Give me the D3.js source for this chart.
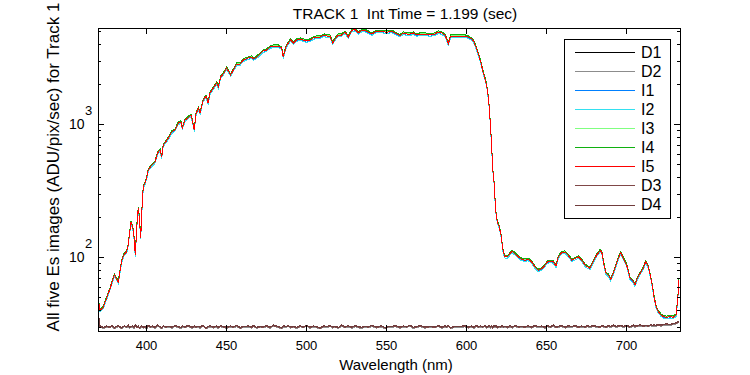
<!DOCTYPE html>
<html>
<head>
<meta charset="utf-8">
<script src="https://cdn.jsdelivr.net/npm/d3@7"></script>
<style>
body{margin:0;background:#fff}
text{font-family:"Liberation Sans",Arial,sans-serif;fill:#000}
</style>
</head>
<body>
<div id="chart"></div>
<script>
// wavelength samples (nm)
var specWl = [
  370, 371.2, 373.1, 375.4, 377.5, 378.6, 380.2, 381.3, 382.7, 383.9,
  384.8, 386.4, 387.9, 388.9, 389.6, 390.6, 391.7, 392.5, 393.3, 394.4,
  395.2, 395.8, 396.7, 397.3, 398.3, 399.4, 400.4, 401.4, 402.7, 403.9,
  405.6, 407.3, 408.8, 409.8, 410.8, 412.3, 414.4, 416.1, 418.1, 420.2,
  421.9, 422.7, 424.4, 426.1, 428.1, 428.9, 430.2, 431.1, 432.7, 433.8,
  435.6, 437.5, 438.8, 440, 442.1, 444.2, 445.2, 446.7, 448.3, 450.4,
  452.9, 454.6, 456.7, 458.8, 460.8, 463.9, 466.1, 467.1, 469.2, 471.3,
  473.3, 475.4, 477.5, 479.6, 482.7, 484.8, 485.8, 487.5, 488.9, 490.4,
  492.1, 494.2, 496.3, 498.3, 500.4, 502.5, 504.6, 506.7, 508.8, 511.3,
  512.9, 515, 516.7, 518.1, 520.2, 522.3, 524.4, 526.4, 528.6, 530.6,
  532.7, 534.8, 536.9, 538.9, 541.1, 544.2, 547.3, 549.4, 551.4, 553.6,
  555.6, 558.8, 560.8, 562.9, 565, 567.1, 569.2, 571.3, 574.4, 577.5,
  580.6, 582.7, 584.8, 586.9, 587.9, 588.9, 590.4, 593.1, 596.3, 599.4,
  601.4, 603.6, 605, 606.3, 607.7, 609.2, 610.4, 611.9, 612.9, 613.9,
  614.6, 615.4, 616.1, 616.7, 617.5, 618.1, 618.8, 619.6, 620.8, 621.9,
  622.7, 623.3, 624.4, 625.8, 627.5, 628.9, 630.6, 632.7, 634.8, 636.9,
  638.9, 641.1, 643.1, 645.2, 647.3, 649.4, 650.8, 652.9, 654.6, 656.3,
  657.7, 659.8, 661.9, 663.9, 666.1, 668.1, 670.2, 672.3, 674.4, 675.6,
  677.5, 679.6, 681.7, 683.8, 684.8, 686.3, 687.5, 688.9, 690.4, 692.1,
  693.8, 695.2, 696.7, 698.3, 700.4, 702.5, 704.6, 705.6, 707.1, 708.8,
  710.8, 712.3, 713.9, 715.4, 716.7, 717.5, 718.8, 720.2, 721.9, 723.3,
  725.4, 727.5, 729.6, 731.3, 732.3, 733.1
]
// Es image signal (ADU/pix/sec)
var specVal = [
  50, 40, 41.6, 49.4, 57.8, 64.1, 73.6, 69.9, 65.2, 80.2,
  93.8, 105.9, 109.6, 123.7, 147.1, 184.3, 169, 142.1, 104, 181.1,
  234.8, 200.9, 139.7, 211.6, 337.8, 362, 394.8, 453.4, 477.5, 494.3,
  520.7, 608.4, 640.8, 567.7, 698.9, 736, 802.6, 875.1, 906, 1023,
  1041, 937.9, 1077, 1115, 1175, 1077, 906, 1175, 1326, 1216,
  1497, 1632, 1446, 1719, 1875, 2044, 1908, 2269, 2389, 2651,
  2349, 2561, 2840, 2840, 3044, 3151, 3206, 3097, 3206, 3378,
  3557, 3619, 3813, 3879, 3879, 3748, 3206, 3813, 4087, 4304,
  4087, 4304, 4379, 4304, 4230, 4304, 4456, 4533, 4533, 4693,
  4612, 4612, 4087, 4379, 4693, 4693, 4943, 4533, 5073, 5162,
  4859, 5073, 5073, 4943, 4775, 5012, 5012, 4943, 4943, 5012,
  4859, 4653, 4859, 4775, 4775, 4859, 4693, 4775, 4775, 4693,
  4775, 4943, 4859, 4693, 4379, 4016, 4612, 4612, 4612, 4612,
  4533, 4379, 4158, 3780, 3378, 2940, 2547, 2203, 1965, 1604,
  1310, 926.6, 655.3, 463.7, 368.3, 275.8, 212.7, 184.3, 169, 146.3,
  123.1, 109.6, 100.5, 100.5, 106.4, 110.9, 106.4, 100.5, 96.6, 95,
  96.6, 92.2, 84.6, 79.9, 82.1, 87.1, 92.2, 93.3, 92.2, 86,
  100.5, 108.3, 109.6, 103.5, 95, 97.6, 100.5, 95, 87.5, 85,
  82.7, 92.7, 104, 112.1, 110.2, 87.5, 75.8, 73.6, 68.3, 75.8,
  87.5, 98.3, 108.3, 98.3, 87.5, 69.5, 65.6, 61.9, 69.5, 75.8,
  82.7, 92.7, 85, 71.5, 58.5, 50.6, 42.5, 39, 36.8, 35.8,
  35.4, 35.8, 35.4, 36.8, 47.8, 67.5
]
// dark frames, same wavelengths
var darkVal = [
  40, 30.2, 29.4, 30.1, 29.7, 30.5, 29.3, 29.9, 30.4, 29.6,
  29.2, 30.3, 29.8, 30.6, 29.5, 29.9, 30.2, 29.4, 30.7, 29.6,
  30.1, 29.3, 29.8, 30.4, 29.5, 30.0, 29.2, 30.5, 29.7, 30.2,
  29.4, 30.6, 29.8, 29.3, 30.3, 29.7, 30.1, 29.5, 30.4, 29.9,
  29.3, 30.2, 29.6, 30.5, 29.8, 29.4, 30.3, 29.7, 30.0, 29.5,
  30.6, 29.2, 29.9, 30.3, 29.6, 30.1, 29.4, 30.4, 29.8, 29.5,
  30.2, 29.7, 30.5, 29.3, 29.9, 30.1, 29.6, 30.4, 29.4, 30.0,
  29.7, 30.3, 29.5, 30.6, 29.8, 29.3, 30.2, 29.9, 30.4, 29.6,
  30.0, 29.4, 30.3, 29.7, 30.5, 29.5, 30.1, 29.8, 29.3, 30.2,
  29.9, 30.4, 29.6, 30.0, 29.4, 30.6, 29.7, 30.2, 29.5, 30.3,
  29.8, 29.4, 30.1, 29.7, 30.5, 29.6, 30.2, 29.3, 30.0, 29.9,
  30.4, 29.5, 30.1, 29.8, 30.6, 29.4, 29.9, 30.3, 29.6, 30.0,
  29.7, 30.4, 29.5, 30.2, 29.8, 30.5, 29.3, 30.0, 29.9, 30.3,
  29.6, 30.1, 29.4, 30.5, 29.8, 30.2, 29.7, 30.4, 29.5, 30.0,
  30.3, 29.6, 30.1, 29.4, 30.6, 29.9, 30.2, 29.5, 30.0, 29.8,
  30.4, 29.7, 30.1, 29.6, 30.3, 29.5, 30.5, 29.8, 30.0, 29.7,
  30.2, 29.6, 30.4, 29.9, 30.1, 29.5, 30.3, 29.8, 30.6, 29.7,
  30.0, 30.4, 29.6, 30.2, 29.9, 30.5, 29.7, 30.1, 29.8, 30.3,
  29.9, 30.4, 30.0, 29.7, 30.5, 30.1, 29.8, 30.3, 30.0, 30.6,
  29.9, 30.2, 30.5, 30.0, 30.4, 29.8, 30.6, 30.1, 30.3, 30.7,
  30.2, 30.5, 30.3, 30.8, 30.4, 30.7, 30.5, 30.9, 30.6, 31.0,
  31.2, 31.0, 31.5, 31.8, 32.3, 32.8
]

var seriesNames = ['D1','D2','I1','I2','I3','I4','I5','D3','D4']
var seriesSource = ['dark','dark','spec','spec','spec','spec','spec','dark','dark']
var seriesGain = [1.0, 0.99, 0.98, 0.975, 1.005, 1.02, 1.0, 1.0, 1.012]
var seriesColors = ['#000000','#8c8c8c','#0080ff','#33e0f0','#80ff80','#10b010','#ff0000','#804848','#703c3c']

var xTicks = [400,450,500,550,600,650,700]
var yMajor = [100,1000]
var yMinor = [30,40,50,60,70,80,90,200,300,400,500,600,700,800,900,2000,3000,4000,5000]

var W = 750, H = 375
var L = 98, R = 680, T = 28, B = 331

var svg = d3.select('#chart').append('svg')
    .attr('width',W)
    .attr('height',H)

var x = d3.scaleLinear().domain([370,733.75]).range([L,R])
var y = d3.scaleLog().domain([27.9,5298]).range([B,T])

svg.append('defs').append('clipPath').attr('id','clip')
  .append('rect').attr('x',L).attr('y',T).attr('width',R-L).attr('height',B-T)

var line = d3.line().x(d=>x(d[0])).y(d=>y(d[1]))

var plot = svg.append('g').attr('clip-path','url(#clip)')
seriesNames.forEach((name,i)=>{
  var src = seriesSource[i]==='dark' ? darkVal : specVal
  var pts = specWl.map((w,k)=>[w, src[k]*seriesGain[i]])
  plot.append('path')
    .attr('d',line(pts))
    .attr('fill','none')
    .attr('stroke',seriesColors[i])
    .attr('stroke-width',1)
    .attr('shape-rendering','crispEdges')
})

// axes, ticks pointing inward
function clean(g){ g.select('.domain').remove(); g.selectAll('line').attr('stroke','#000').attr('shape-rendering','crispEdges') }

svg.append('g').attr('transform',`translate(0,${B})`)
  .call(d3.axisBottom(x).tickValues(xTicks).tickSizeInner(-6).tickSizeOuter(0).tickPadding(10).tickFormat(d3.format('d')))
  .call(clean)
  .selectAll('text').style('font-size','13px').attr('font-family',null)

svg.append('g').attr('transform',`translate(0,${T})`)
  .call(d3.axisTop(x).tickValues(xTicks).tickSizeInner(-6).tickSizeOuter(0).tickFormat(''))
  .call(clean)

svg.append('g').attr('transform',`translate(${L},0)`)
  .call(d3.axisLeft(y).tickValues(yMajor).tickSizeInner(-6).tickSizeOuter(0).tickFormat(''))
  .call(clean)
svg.append('g').attr('transform',`translate(${L},0)`)
  .call(d3.axisLeft(y).tickValues(yMinor).tickSizeInner(-3).tickSizeOuter(0).tickFormat(''))
  .call(clean)
svg.append('g').attr('transform',`translate(${R},0)`)
  .call(d3.axisRight(y).tickValues(yMajor).tickSizeInner(-6).tickSizeOuter(0).tickFormat(''))
  .call(clean)
svg.append('g').attr('transform',`translate(${R},0)`)
  .call(d3.axisRight(y).tickValues(yMinor).tickSizeInner(-3).tickSizeOuter(0).tickFormat(''))
  .call(clean)

// 10^n labels
yMajor.forEach(v=>{
  var yy = y(v)
  svg.append('text').attr('x',84.5).attr('y',yy+5).attr('text-anchor','end')
    .style('font-size','14px').text('10')
  svg.append('text').attr('x',85).attr('y',yy-9).attr('text-anchor','start')
    .style('font-size','13px').text(Math.round(Math.log10(v)))
})

svg.append('rect').attr('x',L).attr('y',T).attr('width',R-L).attr('height',B-T)
  .attr('fill','none').attr('stroke','#000').attr('shape-rendering','crispEdges')

svg.append('text').attr('x',405).attr('y',19).attr('text-anchor','middle')
  .style('font-size','15.5px').style('white-space','pre').text('TRACK 1  Int Time = 1.199 (sec)')

svg.append('text').attr('x',396).attr('y',370).attr('text-anchor','middle')
  .style('font-size','15px').text('Wavelength (nm)')

svg.append('text').attr('transform','translate(59,167) rotate(-90)').attr('text-anchor','middle')
  .style('font-size','17px').text('All five Es images (ADU/pix/sec) for Track 1')

// legend
var lg = svg.append('g')
lg.append('rect').attr('x',564).attr('y',39).attr('width',106).attr('height',179)
  .attr('fill','#fff').attr('stroke','#000').attr('shape-rendering','crispEdges')
seriesNames.forEach((name,i)=>{
  var cy = 51.7 + i*19.1
  lg.append('line').attr('x1',575).attr('x2',635).attr('y1',Math.round(cy)+0.5).attr('y2',Math.round(cy)+0.5)
    .attr('stroke',seriesColors[i]).attr('stroke-width',1).attr('shape-rendering','crispEdges')
  lg.append('text').attr('x',641).attr('y',cy+5.8).style('font-size','16px').text(name)
})
</script>
</body>
</html>
